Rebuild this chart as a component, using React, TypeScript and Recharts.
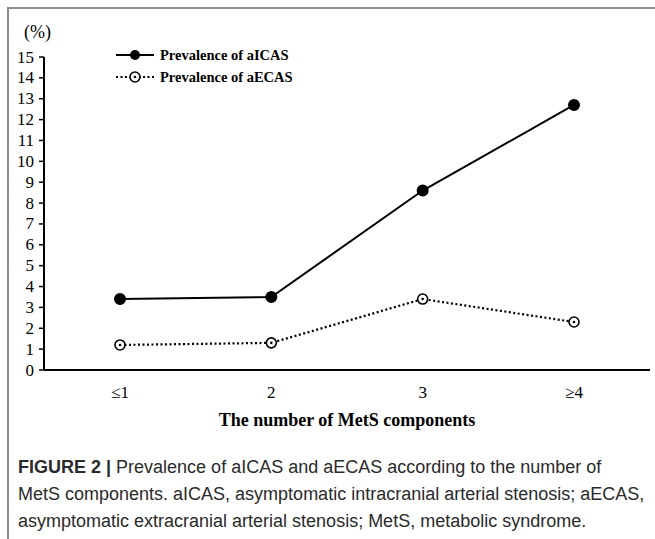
import React from 'react';
import { LineChart, Line, XAxis, YAxis } from 'recharts';

const categories = ['≤1', '2', '3', '≥4'];
const aicas = [3.4, 3.5, 8.6, 12.7];
const aecas = [1.2, 1.3, 3.4, 2.3];
const yTicks = [0, 1, 2, 3, 4, 5, 6, 7, 8, 9, 10, 11, 12, 13, 14, 15];

const data = categories.map((c, i) => ({ group: c, aicas: aicas[i], aecas: aecas[i] }));

const serif = '"Liberation Serif", "Times New Roman", serif';

const OpenDot = (props: any) => {
    const { cx, cy } = props;
    if (cx == null || cy == null) return null;
    return (
        <g>
            <circle cx={cx} cy={cy} r={5} fill="#fff" stroke="#000" strokeWidth={1.6} />
            <circle cx={cx} cy={cy} r={1.3} fill="#000" />
        </g>
    );
};

const YTick = (props: any) => {
    const { x, y, payload } = props;
    return (
        <text x={x} y={y} dy={5.5} textAnchor="end" fill="#000" fontSize={17} fontFamily={serif}>
            {payload.value}
        </text>
    );
};

const XTick = (props: any) => {
    const { x, y, payload } = props;
    return (
        <text x={x} y={y} dy={14} textAnchor="middle" fill="#000" fontSize={17} fontFamily={serif}>
            {payload.value}
        </text>
    );
};

const LegendBox = () => (
    <div style={{ position: 'absolute', left: 116, top: 44, fontFamily: serif, fontWeight: 'bold', fontSize: 14.5, color: '#000' }}>
        <div style={{ display: 'flex', alignItems: 'center', height: 22 }}>
            <svg width={40} height={12}>
                <line x1={0} y1={6} x2={38} y2={6} stroke="#000" strokeWidth={2} />
                <circle cx={19} cy={6} r={5} fill="#000" />
            </svg>
            <span style={{ marginLeft: 4 }}>Prevalence of aICAS</span>
        </div>
        <div style={{ display: 'flex', alignItems: 'center', height: 22 }}>
            <svg width={40} height={12}>
                <line x1={0} y1={6} x2={38} y2={6} stroke="#000" strokeWidth={2} strokeDasharray="2 2.5" />
                <circle cx={19} cy={6} r={5} fill="#fff" stroke="#000" strokeWidth={1.6} />
                <circle cx={19} cy={6} r={1.3} fill="#000" />
            </svg>
            <span style={{ marginLeft: 4 }}>Prevalence of aECAS</span>
        </div>
    </div>
);

export default function App() {
    return (
        <div style={{ position: 'absolute', left: 0, top: 0, width: 655, height: 539, background: '#fff', overflow: 'hidden' }}>
            <div style={{ position: 'absolute', left: 7, top: 7, width: 648, height: 532, borderTop: '2px solid #8c8c8c', borderLeft: '2px solid #8c8c8c' }} />
            <div style={{ position: 'absolute', left: 24, top: 22, fontFamily: serif, fontSize: 18, color: '#000' }}>(%)</div>
            <div style={{ position: 'absolute', left: 0, top: 0 }}>
                <LineChart width={655} height={440} data={data} margin={{ top: 57, right: 5, left: 0, bottom: 20 }}>
                    <XAxis
                        dataKey="group"
                        height={50}
                        padding={{ left: 76, right: 76 }}
                        tickLine={false}
                        axisLine={{ stroke: '#000', strokeWidth: 2 }}
                        tick={<XTick />}
                        tickMargin={8}
                        label={{ value: 'The number of MetS components', position: 'insideBottom', offset: -6, fill: '#000', fontSize: 18, fontWeight: 'bold', fontFamily: serif }}
                    />
                    <YAxis
                        width={44}
                        domain={[0, 15]}
                        ticks={yTicks}
                        interval={0}
                        tickSize={5}
                        tickMargin={5}
                        axisLine={{ stroke: '#000', strokeWidth: 2 }}
                        tickLine={{ stroke: '#000', strokeWidth: 1.5 }}
                        tick={<YTick />}
                    />
                    <Line dataKey="aicas" stroke="#000" strokeWidth={2} dot={{ r: 5, fill: '#000', stroke: '#000' }} isAnimationActive={false} />
                    <Line dataKey="aecas" stroke="#000" strokeWidth={2.2} strokeDasharray="2 2.5" dot={<OpenDot />} isAnimationActive={false} />
                </LineChart>
            </div>
            <LegendBox />
            <div style={{ position: 'absolute', left: 18, top: 454, fontFamily: '"Liberation Sans", Arial, sans-serif', fontSize: 18, color: '#2a2a2a', lineHeight: '27px', whiteSpace: 'nowrap' }}>
                <div><b>FIGURE 2 |</b> Prevalence of aICAS and aECAS according to the number of</div>
                <div>MetS components. aICAS, asymptomatic intracranial arterial stenosis; aECAS,</div>
                <div>asymptomatic extracranial arterial stenosis; MetS, metabolic syndrome.</div>
            </div>
        </div>
    );
}
